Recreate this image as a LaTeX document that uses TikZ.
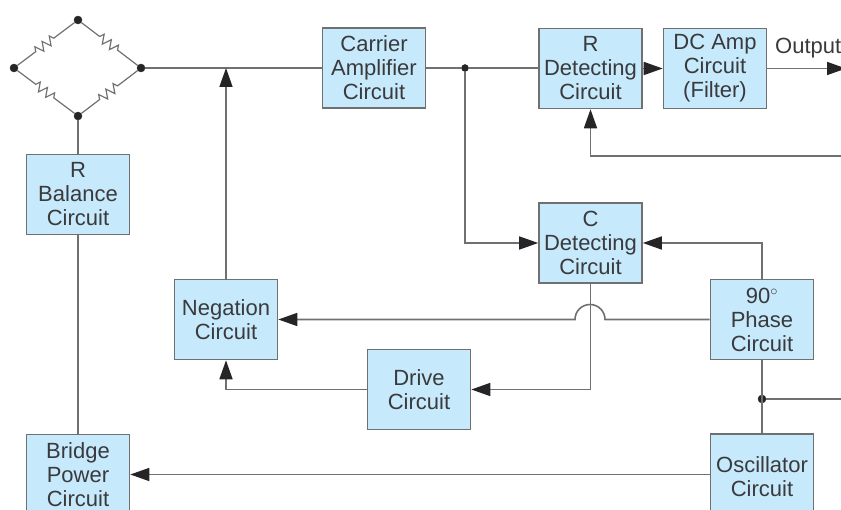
\documentclass[tikz,border=0pt]{standalone}
\usepackage{fontspec}
\setmainfont{Liberation Sans}
\usetikzlibrary{arrows.meta,decorations.pathmorphing}
\definecolor{boxblue}{HTML}{C6E9FC}
\definecolor{wire}{HTML}{6F7072}
\definecolor{ink}{HTML}{3A3A3C}
\definecolor{tip}{HTML}{262426}
\tikzstyle{vertex}=[circle, draw=tip, fill=tip, inner sep=0pt, minimum size=8pt]
\tikzstyle{junction}=[circle, draw=tip, fill=tip, inner sep=0pt, minimum size=7pt]
\tikzstyle{block}=[rectangle, draw=wire, fill=boxblue, line width=1.6pt, inner sep=0pt,
minimum width=103pt, minimum height=80pt, align=center, text=ink,
font=\fontsize{22}{24}\selectfont]
\tikzstyle{wired}=[draw=wire, line width=1.6pt]
\tikzstyle{feed}=[wired, -{Triangle[length=19pt, width=13pt, color=tip]}]
\tikzstyle{resistor}=[wired, line width=1.2pt, decorate, decoration={zigzag, segment length=9pt,
amplitude=4.5pt, pre length=23pt, post length=23pt}]

\begin{document}
\begin{tikzpicture}[x=1pt, y=-1pt]
  \useasboundingbox (0, 0) rectangle (841, 510);
  \clip (0, 0) rectangle (841, 510);

  % Bridge Nodes
  \node (top) at (78, 20) [vertex]{};
  \node (left) at (14, 68) [vertex]{};
  \node (right) at (141, 68) [vertex]{};
  \node (bottom) at (78, 116) [vertex]{};

  % Blocks
  \node (carrier) at (374, 68) [block]{Carrier\\Amplifier\\Circuit};
  \node (rdetect) at (590.5, 68.5) [block]{R\\Detecting\\Circuit};
  \node (dcamp) at (715, 68.5) [block]{DC Amp\\Circuit\\(Filter)};
  \node (cdetect) at (590.5, 243) [block]{C\\Detecting\\Circuit};
  \node (phase) at (762, 319.5) [block]{90$^\circ$\\Phase\\Circuit};
  \node (oscillator) at (762, 477) [block, minimum height=86pt]{Oscillator\\Circuit};
  \node (rbalance) at (78, 194.5) [block]{R\\Balance\\Circuit};
  \node (negation) at (226, 319.5) [block]{Negation\\Circuit};
  \node (drive) at (419, 389.5) [block]{Drive\\Circuit};
  \node (bridge) at (78, 474.5) [block]{Bridge\\Power\\Circuit};

  % Label
  \node (output) at (775, 48) [anchor=west, inner sep=0pt, text=ink,
    font=\fontsize{22}{24}\selectfont]{Output};

  % Junctions and free ends
  \node (split) at (465, 68) [junction]{};
  \node (tap) at (762, 399) [vertex]{};
  \coordinate (sum) at (226, 68);
  \coordinate (outend) at (846, 68.5);
  \coordinate (backend) at (846, 156);
  \coordinate (tapend) at (846, 399);
  \coordinate (hopin) at (605, 319.5);
  \coordinate (hopout) at (575, 319.5);

  % Bridge Edges
  \draw [resistor] (left) -- (top);
  \draw [resistor] (top) -- (right);
  \draw [resistor] (left) -- (bottom);
  \draw [resistor] (bottom) -- (right);
  \draw [wired] (rbalance) -- (bottom);
  \draw [wired] (rbalance) -- (bridge);

  % Top Edges
  \draw [wired] (right) -- (carrier);
  \draw [wired] (carrier.east |- split) -- (split);
  \draw [wired] (split) -- (rdetect.west |- split);
  \draw [feed] (negation) -- (sum);
  \draw [feed] (rdetect) -- (dcamp);
  \draw [feed] (dcamp) -- (outend);
  \draw [feed] (backend) -| (rdetect);

  % Middle Edges
  \draw [feed] (split) |- (cdetect);
  \draw [feed] (phase) |- (cdetect);
  \draw [feed] (cdetect) |- (drive);
  \draw [feed] (drive) -| (negation);
  \draw [feed] (phase.west) -- (hopin) arc[start angle=0, end angle=180, radius=15pt]
    -- (negation.east |- hopout);

  % Bottom Edges
  \draw [wired] (phase) -- (oscillator);
  \draw [wired] (tap) -- (tapend);
  \draw [feed] (oscillator.west |- bridge) -- (bridge);
\end{tikzpicture}
\end{document}
